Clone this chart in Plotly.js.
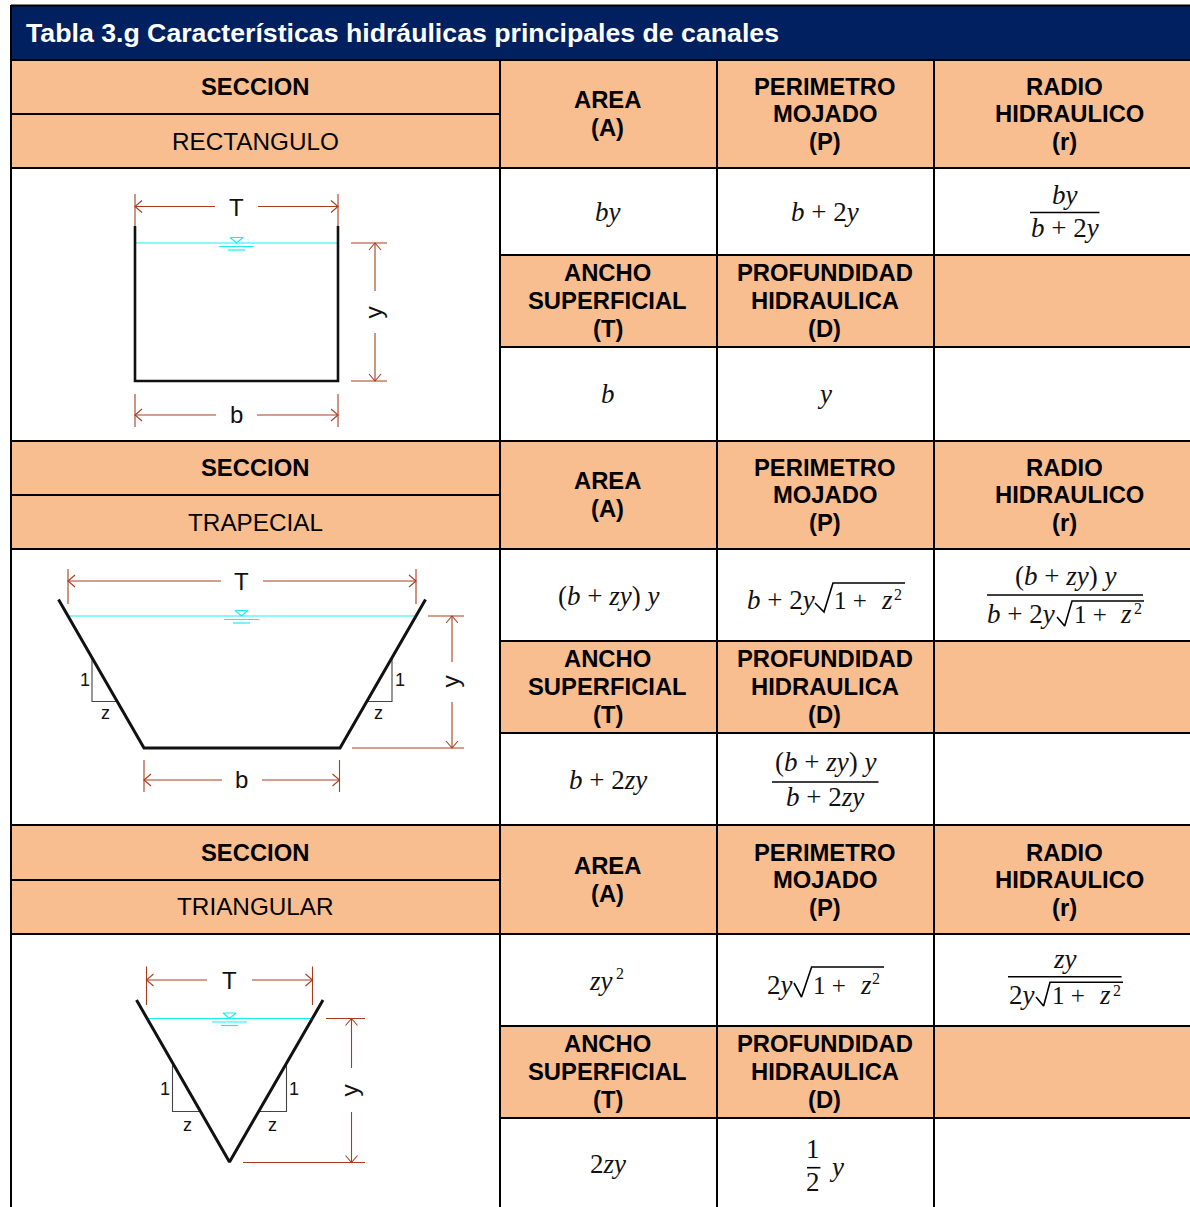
<!DOCTYPE html>
<html><head><meta charset="utf-8">
<script src="https://cdn.plot.ly/plotly-3.0.1.min.js"></script>
<style>html,body{margin:0;padding:0;background:#fff;overflow:hidden}#c{width:1190px;height:1207px}</style>
</head><body><div id="c"></div><script>
const tableTitle = "Tabla 3.g Características hidráulicas principales de canales";
const sectionNames = ["RECTANGULO","TRAPECIAL","TRIANGULAR"];
const headerTop = [["AREA","(A)"],["PERIMETRO","MOJADO","(P)"],["RADIO","HIDRAULICO","(r)"]];
const headerLow = [["ANCHO","SUPERFICIAL","(T)"],["PROFUNDIDAD","HIDRAULICA","(D)"]];
const colEdges = [11,500,717,934,1190];
const blockRows = [[60,114,168,255,347,441],[441,495,549,641,733,825],[825,880,934,1026,1118,1207]];
const blockTextTop = [60,441,826];

// channel profiles
const rectWall = [[135,226],[135,381],[338,381],[338,226]];
const trapWall = [[58.5,599.5],[144,748],[340,748],[425.5,599.5]];
const triWall  = [[136.5,1000],[229.5,1162],[323,1000]];
// water level: xLeft, xRight, y, symbol centre
const waterLines = [[136,337,243,236.5],[68,415,616,241.5],[147,312,1018.5,229.5]];
// horizontal dimensions: x0,x1,y,gapL,gapR,tickTop,tickBottom
const hDims = [[135,338,206.5,215,258,194,226],[135,338,415,216,257,394,427],
  [68,416,581,221,263,569,604],[144,339.5,780,222,262,760,792],[146.5,312.5,980,207,252,966.5,1005]];
// vertical dimensions: x,y0,y1,gapT,gapB,topTickX0,botTickX0,tickX1
const vDims = [[375,243,381,291,333,351,351,387],[452,616,748,662,702,428,352,464],[351.5,1018.5,1162.5,1068,1112,326,243,365]];
// slope triangles (1 : z)
const slopes = [[[92,658],[92,701.5],[117,701.5]],[[392,658],[392,701.5],[367,701.5]],
  [[172.5,1065],[172.5,1111.5],[199,1111.5]],[[286.5,1065],[286.5,1111.5],[259.5,1111.5]]];
// diagram labels: text,x,y,size,angle
const diagLabels = [["T",236,207,24,0],["b",236,414.5,24,0],["y",372.5,312,24.5,-90],
 ["T",241.5,581,24,0],["b",241,779.5,24,0],["y",449.5,681,24.5,-90],
 ["T",229.5,980,24,0],["y",348.5,1090,24.5,-90],
 ["1",85,680,18,0],["z",105,713,18,0],["1",399.5,680,18,0],["z",378.5,713,18,0],
 ["1",165,1088.5,18,0],["z",187,1125,18,0],["1",294,1088.5,18,0],["z",272,1125,18,0]];
// formula texts: text,x,y,anchor,size
const M=s=>s.replace(/([a-z]+)/g,"<i>$1</i>");
const SZ=27, SUP=16, ONE=25;
const formulas = [
 ["by",608,211.5,"center"],["b + 2y",825,211.5,"center"],["by",1065,194.5,"center"],["b + 2y",1065,227.5,"center"],
 ["b",608,393.5,"center"],["y",824,393.5,"center"],
 ["(b + zy) y",608,595.5,"center"],["b + 2y",746.5,599.5,"left"],["1 +",834,600,"left",ONE],["z",880.5,599.5,"left"],["2",894,594,"left",SUP],
 ["(b + zy) y",1065,575.5,"center"],["b + 2y",987,613.5,"left"],["1 +",1074,614,"left",ONE],["z",1119.5,613.5,"left"],["2",1134,608,"left",SUP],
 ["b + 2zy",608,779.5,"center"],["(b + zy) y",825,761.5,"center"],["b + 2zy",825,796.5,"center"],
 ["zy",589,980.5,"left"],["2",615.5,973,"left",SUP],
 ["2y",767,984.5,"left"],["1 +",813,985,"left",ONE],["z",859.5,984.5,"left"],["2",872,978,"left",SUP],
 ["zy",1065,958.5,"center"],["2y",1009,994.5,"left"],["1 +",1052,995,"left",ONE],["z",1099,994.5,"left"],["2",1113,990,"left",SUP],
 ["2zy",608,1163.5,"center"],["1",813,1148.5,"center"],["2",813,1181.5,"center"],["y",836,1166.5,"center"]
];
// fraction bars: x0,x1,y
const fracBars = [[1030,1099.5,212.5],[987,1143,595],[772,878.5,782],[1008,1121.5,976.7],[807,820.4,1167.7]];
// radicals: tickX,tickY,botX,botY,topX,topY,endX
const radicals = [[815,603,824,612,833,583,905],[1057,617,1064.7,626,1072,601,1144],
  [794,983,801.5,997,811.6,967,884],[1036,997,1043.6,1006,1050,982.3,1123]];

const traces=[], shapes=[], ann=[];
function seg(list,color,width){
  const x=[],y=[];
  list.forEach(p=>{p.forEach(q=>{x.push(q[0]);y.push(q[1]);});x.push(null);y.push(null);});
  traces.push({type:"scatter",mode:"lines",x,y,line:{color,width,shape:"linear"},hoverinfo:"skip",showlegend:false,connectgaps:false});
}
function rect(x0,y0,x1,y1,c){shapes.push({type:"rect",layer:"below",xref:"x",yref:"y",x0,y0,x1,y1,fillcolor:c,line:{width:0}});}
function text(t,x,y,o){o=o||{};ann.push({text:t,x,y,xref:"x",yref:"y",showarrow:false,xanchor:o.a||"center",yanchor:"middle",textangle:o.angle||0,
  borderpad:0,borderwidth:0,font:{family:o.f||"Liberation Sans, Arial, sans-serif",size:o.s||23.8,color:o.c||"#000"}});}

// table
const ORANGE="#F9BE8F", NAVY="#002060";
rect(11,6,1190,60,NAVY);
const gridLines=[];
const topCols=[607.5,824.5,1064.5];
blockRows.forEach((r,i)=>{
  const t=blockTextTop[i];
  rect(11,r[0],1190,r[2],ORANGE);
  rect(500,r[3],1190,r[4],ORANGE);
  gridLines.push([[11,r[0]],[1190,r[0]]],[[11,r[1]],[500,r[1]]],[[11,r[2]],[1190,r[2]]],[[500,r[3]],[1190,r[3]]],[[500,r[4]],[1190,r[4]]]);
  text("<b>SECCION</b>",255,t+26);
  text(sectionNames[i],255,r[0]+81.5,{s:24.3});
  const off=[[39,67],[26,53,81],[26,53,81]];
  headerTop.forEach((ls,c)=>ls.forEach((l,j)=>text("<b>"+l+"</b>",l==="HIDRAULICO"?1069.5:topCols[c],t+off[c][j])));
  const off2=[17.8,45.8,73];
  headerLow.forEach((ls,c)=>ls.forEach((l,j)=>text("<b>"+l+"</b>",topCols[c],r[3]+off2[j])));
});
gridLines.push([[11,5.5],[1190,5.5]],[[11,5],[11,1207]]);
colEdges.slice(1,4).forEach(x=>gridLines.push([[x,60],[x,1207]]));
text("<b>"+tableTitle+"</b>",25.5,33,{a:"left",s:26.7,c:"#fff"});

// diagrams
const DIM="#A93C1C";
const dimSeg=[];
hDims.forEach(d=>{const [x0,x1,y,g0,g1,t0,t1]=d;
  dimSeg.push([[x0,y],[g0,y]],[[g1,y],[x1,y]],[[x0,t0],[x0,t1]],[[x1,t0],[x1,t1]],
   [[x0+7,y-6],[x0,y],[x0+7,y+6]],[[x1-7,y-6],[x1,y],[x1-7,y+6]]);});
vDims.forEach(d=>{const [x,y0,y1,g0,g1,tA,tB,tE]=d;
  dimSeg.push([[x,y0],[x,g0]],[[x,g1],[x,y1]],[[tA,y0],[tE,y0]],[[tB,y1],[tE,y1]],
   [[x-6,y0+7],[x,y0],[x+6,y0+7]],[[x-6,y1-7],[x,y1],[x+6,y1-7]]);});
seg(dimSeg,DIM,1.1);
const water=[];
waterLines.forEach(w=>{const [a,b,y,c]=w;
  water.push([[a,y],[b,y]],[[c-6.5,y-5.5],[c+6.5,y-5.5],[c,y],[c-6.5,y-5.5]],[[c-17.5,y+3.5],[c+17.5,y+3.5]],[[c-8.5,y+7],[c+8.5,y+7]]);});
seg(water,"#19EFEF",1.2);
seg(slopes,"#444",1.1);
seg([rectWall],"#111",2.6);
seg([trapWall,triWall],"#111",3);
diagLabels.forEach(l=>text(l[0],l[1],l[2],{s:l[3],angle:l[4],c:"#111"}));

// formulas
seg(fracBars.map(b=>[[b[0],b[2]],[b[1],b[2]]]),"#000",1.6);
seg(radicals.map(r=>[[r[0],r[1]],[r[2],r[3]],[r[4],r[5]],[r[6],r[5]]]),"#000",1.6);
formulas.forEach(f=>text(M(f[0]).replace(/ /g,"\u00a0"),f[1],f[2],{a:f[3],s:f[4]||SZ,f:"Liberation Serif, serif",c:"#111"}));
seg(gridLines,"#000",2);

Plotly.newPlot("c",traces,{
  width:1190,height:1207,margin:{l:0,r:0,t:0,b:0,pad:0},paper_bgcolor:"#fff",plot_bgcolor:"#fff",showlegend:false,
  xaxis:{range:[0,1190],visible:false,fixedrange:true},
  yaxis:{range:[1207,0],visible:false,fixedrange:true},
  shapes,annotations:ann
},{staticPlot:true,displayModeBar:false});
</script></body></html>
